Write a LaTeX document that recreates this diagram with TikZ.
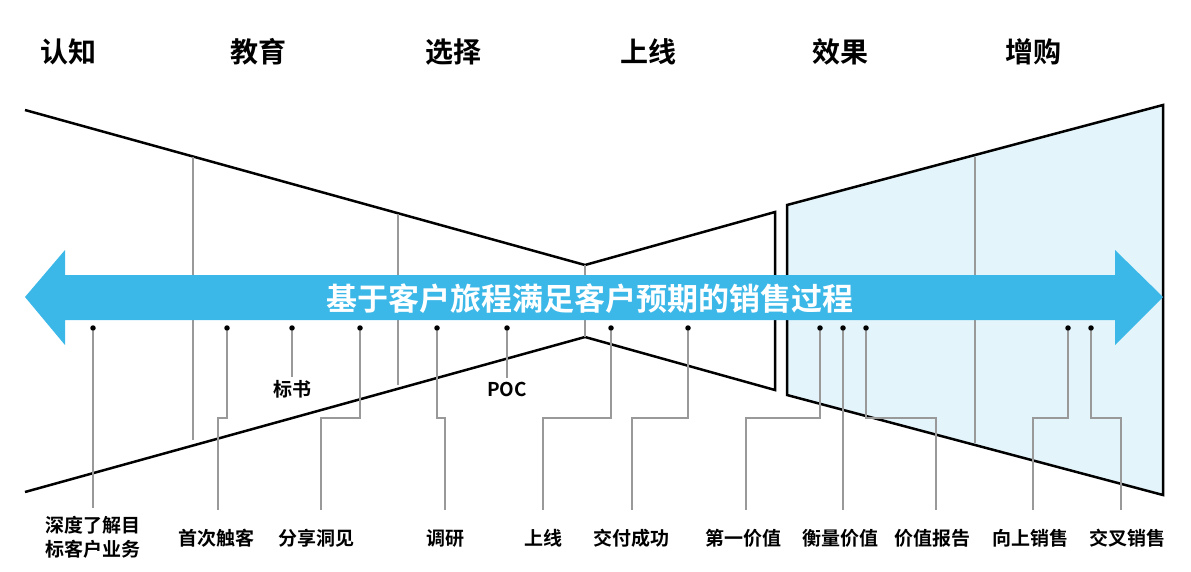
\documentclass[tikz,border=0pt]{standalone}
\usepackage{fontspec}
\setmainfont{Noto Sans CJK SC}[BoldFont={* Bold}]
\definecolor{arrowblue}{HTML}{3CB8E8}
\definecolor{boxblue}{HTML}{E3F4FA}
\begin{document}
\begin{tikzpicture}[x=1pt,y=-1pt,
  outline/.style={line width=2.5pt,black,line join=miter},
  divider/.style={gray!80,line width=1.3pt},
  conn/.style={gray!80,line width=1.3pt},
  dotmark/.style={circle,fill=black,inner sep=0pt,minimum size=5.5pt},
  lab/.style={font=\bfseries\fontsize{19}{22}\selectfont,align=center},
  head/.style={font=\bfseries\fontsize{28}{30}\selectfont}]
\useasboundingbox (0,0) rectangle (1191,571);
% right box
\draw[outline,fill=boxblue] (787,205) -- (1163,105) -- (1163,495) -- (787,395) -- cycle;
% left shape
\draw[outline] (25,110) -- (585,265) -- (775,212) -- (775,390) -- (585,337) -- (25,492);
% dividers
\draw[divider] (193,157) -- (193,440);
\draw[divider] (398,214) -- (398,385);
\draw[divider] (975,157) -- (975,443);
\draw[divider] (585,265) -- (585,337);
% arrow
\fill[arrowblue] (25,297) -- (65,250) -- (65,275) -- (1115,275) -- (1115,250) -- (1163,297) -- (1115,345) -- (1115,320) -- (65,320) -- (65,345) -- cycle;
\node[text=white,font=\bfseries\fontsize{31}{34}\selectfont] (title) at (590,299) {基于客户旅程满足客户预期的销售过程};
% headings
\foreach \t/\x [count=\i] in {认知/68,教育/258,选择/453,上线/648,效果/840,增购/1033}
  \node[head] (h\i) at (\x,52) {\t};
% labels
\node[lab,font=\bfseries\fontsize{19}{24}\selectfont] (l1) at (93,537) {深度了解目\\标客户业务};
\node[lab] (l2) at (216,538) {首次触客};
\node[lab] (l3) at (316,538) {分享洞见};
\node[lab] (l4) at (445,538) {调研};
\node[lab] (l5) at (543,538) {上线};
\node[lab] (l6) at (631,538) {交付成功};
\node[lab] (l7) at (743,538) {第一价值};
\node[lab] (l8) at (840,538) {衡量价值};
\node[lab] (l9) at (932,538) {价值报告};
\node[lab] (l10) at (1030,538) {向上销售};
\node[lab] (l11) at (1127,538) {交叉销售};
\node[lab] (lb) at (292,389) {标书};
\node[lab] (lp) at (507,389) {POC};
% dots
\foreach \x [count=\i] in {93,227,292,360,437,507,611,688,820,843,866,1068,1091}
  \node[dotmark] (d\i) at (\x,328) {};
% connectors
\draw[conn] (d1) -- (93,508);
\draw[conn] (d2) |- (218,418) -- (218,510);
\draw[conn] (d3) -- (lb.north);
\draw[conn] (d4) |- (321,418) -- (321,510);
\draw[conn] (d5) |- (445,418) -- (445,510);
\draw[conn] (d6) -- (lp.north);
\draw[conn] (d7) |- (543,418) -- (543,510);
\draw[conn] (d8) |- (632,418) -- (632,510);
\draw[conn] (d9) |- (746,418) -- (746,510);
\draw[conn] (d10) -- (843,510);
\draw[conn] (d11) |- (936,418) -- (936,510);
\draw[conn] (d12) |- (1033,418) -- (1033,510);
\draw[conn] (d13) |- (1121,418) -- (1121,510);
\end{tikzpicture}
\end{document}
